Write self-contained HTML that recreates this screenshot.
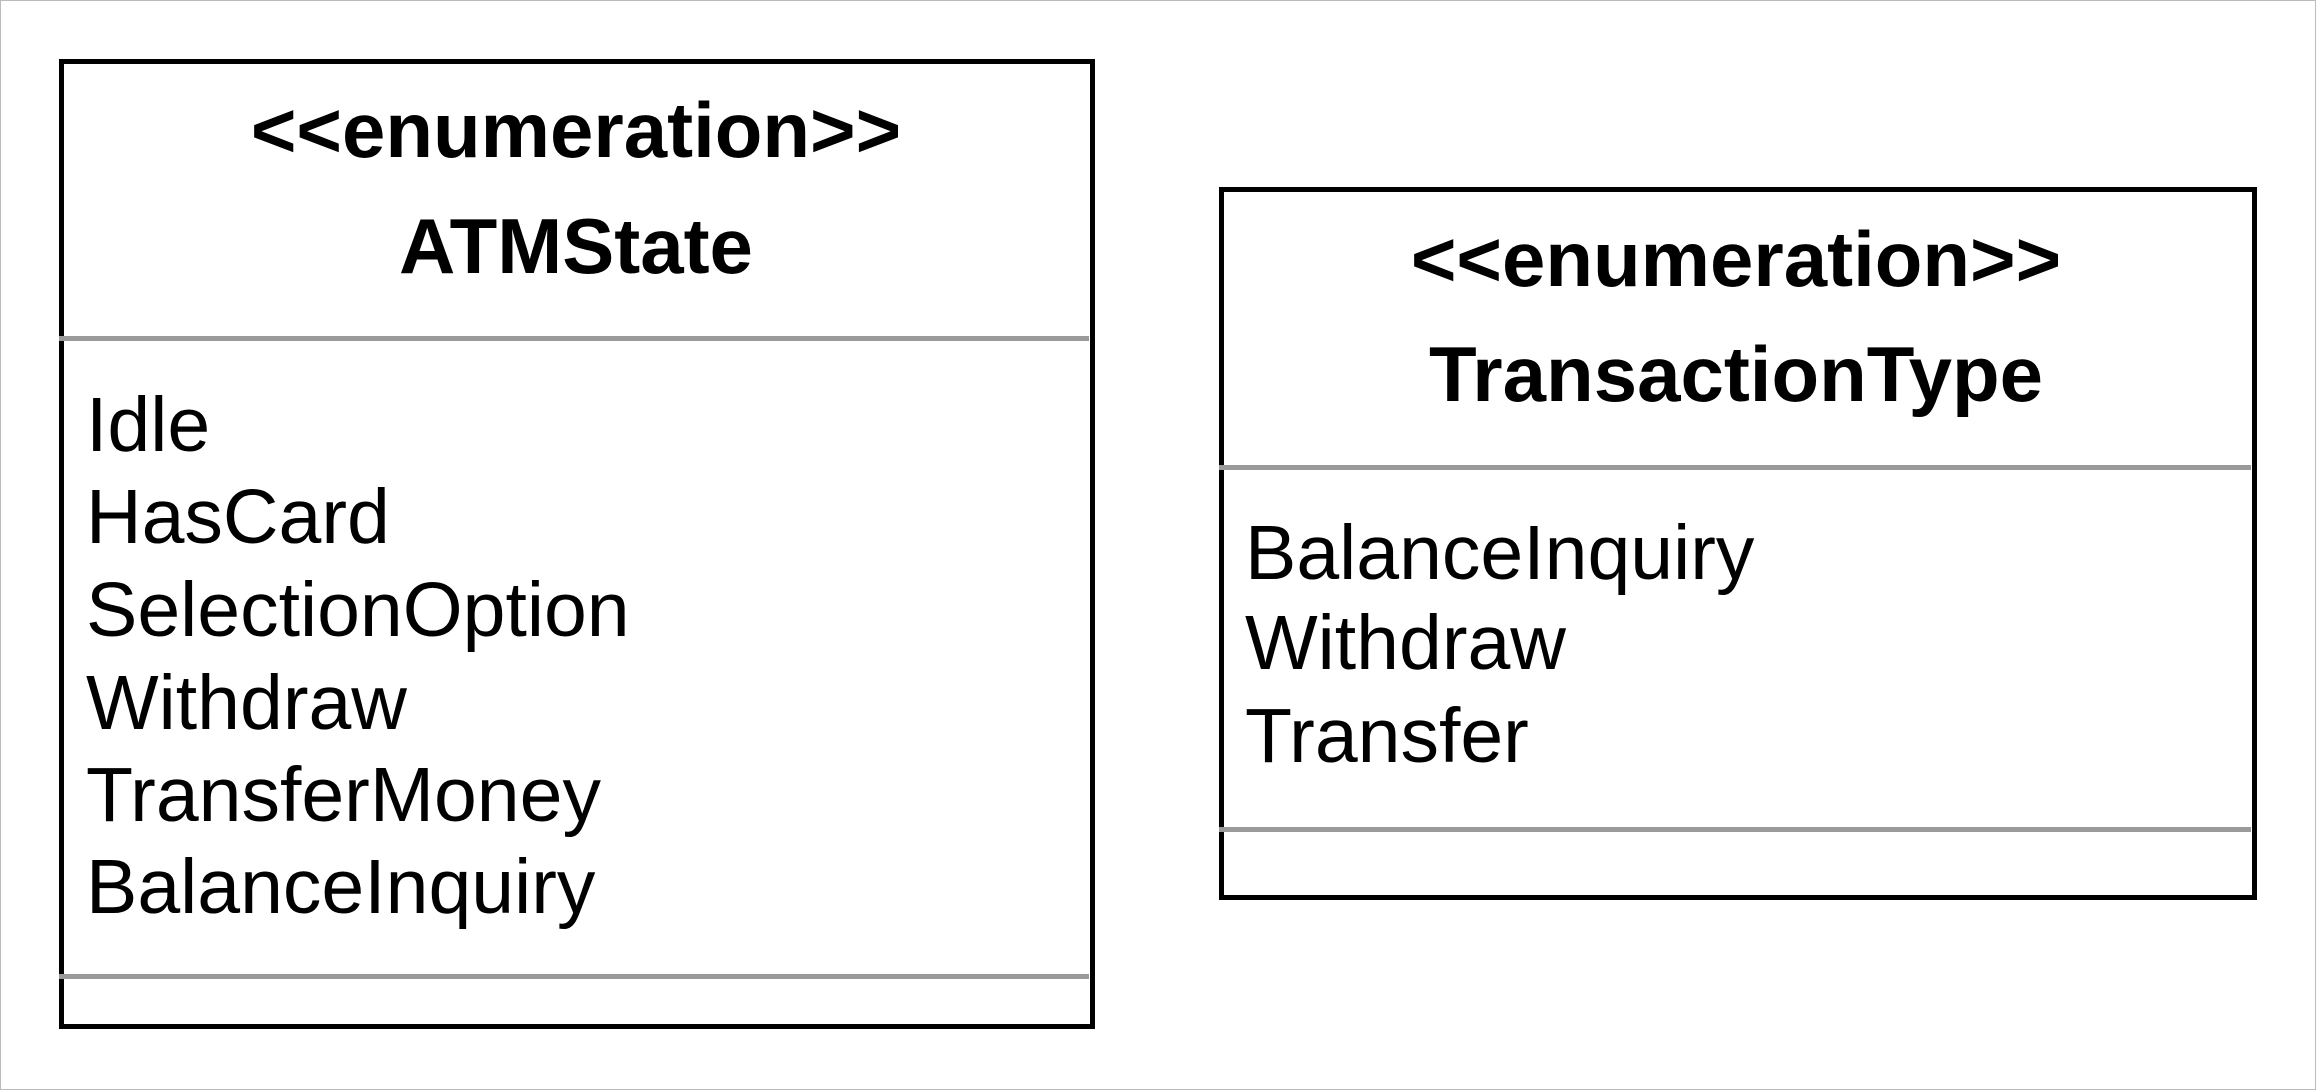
<!DOCTYPE html>
<html><head><meta charset="utf-8"><style>
html,body{margin:0;padding:0;background:#fff;}
body{width:2316px;height:1090px;position:relative;overflow:hidden;font-family:"Liberation Sans",Arial,sans-serif;}
.frame{position:absolute;left:0;top:0;width:2314px;height:1088px;border:1px solid #bbb;}
.box{position:absolute;border:5px solid #000;box-sizing:border-box;}
.div{position:absolute;height:5px;background:#9a9a9a;}
.t{position:absolute;font-weight:bold;font-size:78px;white-space:nowrap;transform:translateX(-50%);line-height:1;}
.i{position:absolute;font-size:77px;white-space:nowrap;line-height:1;}
</style></head><body>
<div class="frame"></div>
<div class="box" style="left:59px;top:59px;width:1036px;height:970px;"></div>
<div class="div" style="left:59px;top:336px;width:1030px;"></div>
<div class="div" style="left:59px;top:974px;width:1030px;"></div>
<div class="t" style="left:576px;top:91px;">&lt;&lt;enumeration&gt;&gt;</div>
<div class="t" style="left:576px;top:207px;">ATMState</div>
<div class="i" style="left:86px;top:387px;">Idle</div>
<div class="i" style="left:86px;top:479px;">HasCard</div>
<div class="i" style="left:86px;top:572px;">SelectionOption</div>
<div class="i" style="left:86px;top:665px;">Withdraw</div>
<div class="i" style="left:86px;top:757px;">TransferMoney</div>
<div class="i" style="left:86px;top:849px;">BalanceInquiry</div>

<div class="box" style="left:1219px;top:187px;width:1038px;height:713px;"></div>
<div class="div" style="left:1219px;top:465px;width:1032px;"></div>
<div class="div" style="left:1219px;top:827px;width:1032px;"></div>
<div class="t" style="left:1736px;top:220px;">&lt;&lt;enumeration&gt;&gt;</div>
<div class="t" style="left:1736px;top:335px;">TransactionType</div>
<div class="i" style="left:1245px;top:515px;">BalanceInquiry</div>
<div class="i" style="left:1245px;top:605px;">Withdraw</div>
<div class="i" style="left:1245px;top:698px;">Transfer</div>
</body></html>
